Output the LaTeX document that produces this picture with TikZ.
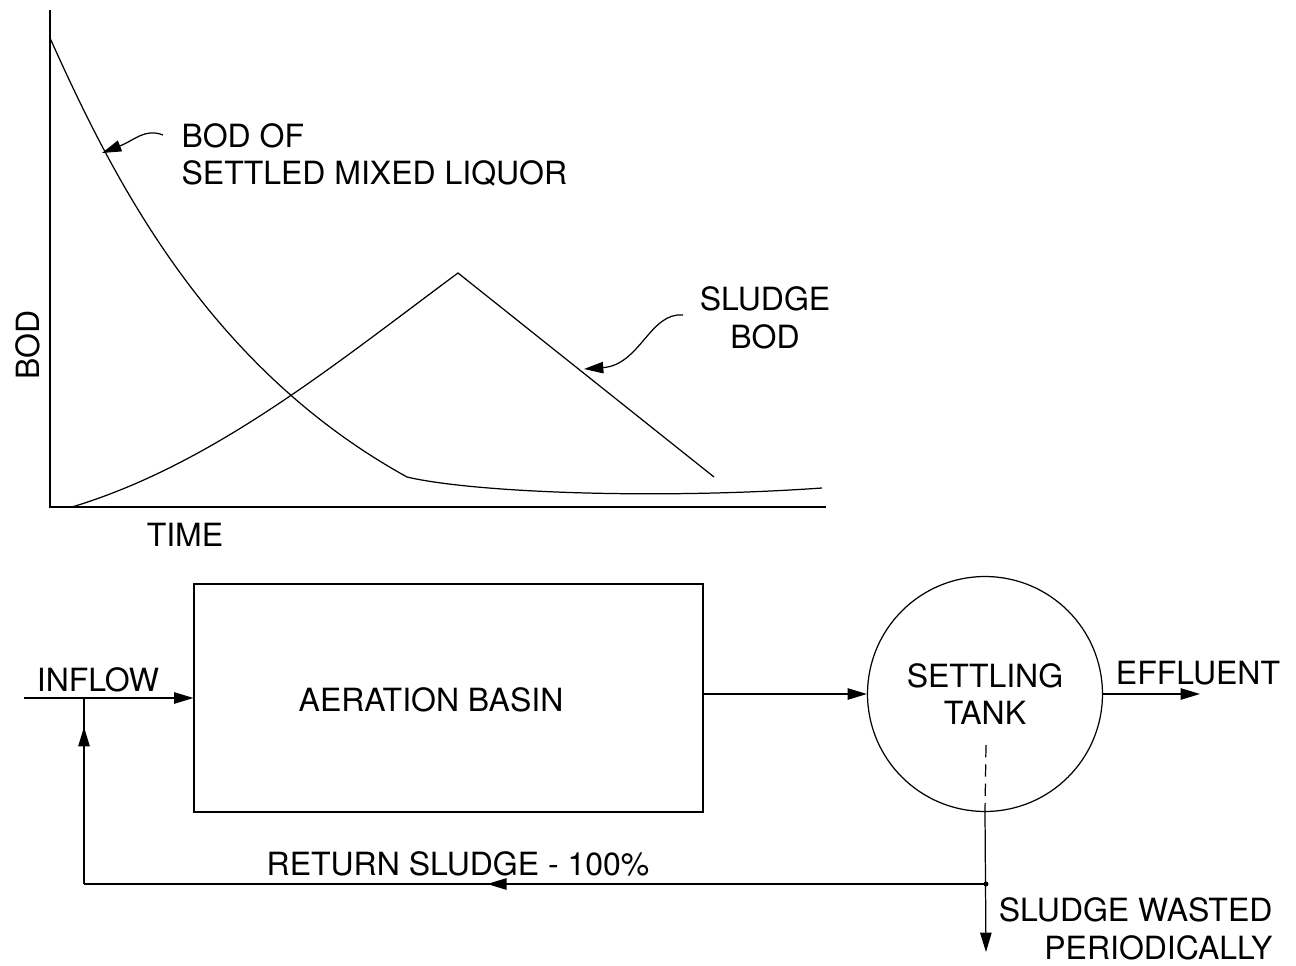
\documentclass[tikz,border=0pt]{standalone}
\usepackage{fontspec}
\setmainfont{TeX Gyre Heros}
\usetikzlibrary{arrows.meta}
\usetikzlibrary{decorations.markings}
\tikzstyle{lbl} = [font=\fontsize{18.2}{21.5}\selectfont, inner sep=0pt]
\tikzstyle{flow} = [-{Triangle[length=11pt,width=6.5pt]}]
\tikzset{midarrow/.style={postaction=decorate, decoration={markings,
  mark=at position #1 with {\arrow{Triangle[length=11pt,width=6.5pt]}}}}}

\begin{document}
\begin{tikzpicture}
    [x=0.02cm, y=-0.02cm, line width=0.7pt]
    \useasboundingbox (0,0) rectangle (1296,966);
    % graph
    \coordinate (origin) at (50,507);
    \draw (50,10) -- (origin) -- (826,507);
    \node[lbl, rotate=90] (bodaxis) at (28,345) {BOD};
    \node[lbl] (timeaxis) at (185,535) {TIME};
    % bod of settled mixed liquor
    \draw (50,38) .. controls (112,176) and (206,366) .. (407,477)
          .. controls (470,492) and (650,500) .. (822,488);
    % sludge bod
    \draw (72,507) .. controls (214,464) and (335,364) .. (458,273) -- (714,477);
    \node[lbl, anchor=west, align=left] (liqlbl) at (181,155) {BOD OF\\SETTLED MIXED LIQUOR};
    \node[lbl, align=center] (sludgelbl) at (765,318) {SLUDGE\\BOD};
    \draw[flow] (163,135) .. controls (145,128) and (135,140) .. (102,153);
    \draw[flow] (683,315) .. controls (650,312) and (640,365) .. (584,369);
    % flow scheme
    \node[draw, minimum width=10.18cm, minimum height=4.56cm] (basin) at (448.5,698) {};
    \node[lbl] (basinlbl) at (431,700) {AERATION BASIN};
    \node[draw, circle, minimum size=4.7cm, lbl, align=center] (tank) at (985,694) {SETTLING\\TANK};
    \coordinate (infeed) at (24,698);
    \coordinate (retjoin) at (84,698);
    \coordinate (retcorner) at (84,884);
    \coordinate (junc) at (986,884);
    \coordinate (sludgeout) at (986,745);
    \coordinate (waste) at (986,952);
    \coordinate (eff) at (1200,694);
    \draw[flow] (infeed) -- (basin.west);
    \node[lbl] (inlbl) at (98,680) {INFLOW};
    \draw[flow] (basin.east |- tank.west) -- (tank.west);
    \draw[flow] (tank.east) -- (eff);
    \node[lbl] (efflbl) at (1198,673) {EFFLUENT};
    \draw[dashed, dash pattern=on 7pt off 4pt] (sludgeout) -- (tank.south);
    \draw[flow] (tank.south) -- (waste);
    \fill (junc) circle (2.5);
    \draw[midarrow=0.553] (junc) -- (retcorner);
    \draw[midarrow=0.844] (retcorner) -- (retjoin);
    \node[lbl] (retlbl) at (458,864) {RETURN SLUDGE - 100\%};
    \node[lbl, anchor=east, align=right] (wastelbl) at (1273,929) {SLUDGE WASTED\\PERIODICALLY};
\end{tikzpicture}
\end{document}
